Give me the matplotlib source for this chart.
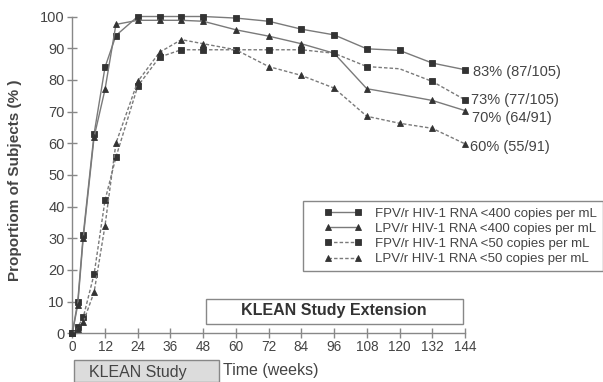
import matplotlib
matplotlib.use("Agg")
import matplotlib.pyplot as plt
from matplotlib.patches import Rectangle

plt.rcParams['font.family'] = ['Liberation Sans', 'DejaVu Sans']

# weeks
weeks = [0, 2, 4, 8, 12, 16, 24, 32, 40, 48, 60, 72, 84, 96, 108, 120, 132, 144]

# % of subjects
fpv_400 = [0, 10, 31, 63, 84, 94, 100, 100, 100, 100, 99.5, 98.5, 96, 94.2, 89.8, 89.3, 85.3, 83.2]
lpv_400 = [0, 9, 30, 62, 77, 97.5, 98.8, 98.8, 98.8, 98.5, 95.8, 93.8, 91.4, 88.4, 77.2, 75.4, 73.5, 70.3]
fpv_50 = [0, 2, 5, 18.7, 42, 55.6, 78, 87.2, 89.5, 89.5, 89.5, 89.5, 89.5, 88.4, 84.2, 83.5, 79.5, 73.7]
lpv_50 = [0, 1.5, 3.5, 13, 34, 60, 79.5, 88.7, 92.7, 91.4, 89.5, 84.2, 81.4, 77.4, 68.5, 66.3, 64.7, 59.8]

end_labels = ["83% (87/105)", "70% (64/91)", "73% (77/105)", "60% (55/91)"]
series_names = ["FPV/r HIV-1 RNA <400 copies per mL",
                "LPV/r HIV-1 RNA <400 copies per mL",
                "FPV/r HIV-1 RNA <50 copies per mL",
                "LPV/r HIV-1 RNA <50 copies per mL"]
xticks = list(range(0, 145, 12))
yticks = list(range(0, 101, 10))

W, H = 603, 382
fig = plt.figure(figsize=(W / 100, H / 100), dpi=100)
ax = fig.add_axes([72.3 / W, 1 - 333.3 / H, 392.7 / W, 316.8 / H])

line_col = '#7a7a7a'
mark_col = '#333333'
dash = (0, (2.5, 1.5))
styles = [
    (fpv_400, 's', '-', 4.8),
    (lpv_400, '^', '-', 4.3),
    (fpv_50, 's', dash, 4.8),
    (lpv_50, '^', dash, 4.3),
]
# markers missing at week 120 for the LPV/r <400 and FPV/r <50 curves
skip120 = [i for i in range(len(weeks)) if weeks[i] != 120]
handles = []
for k, (vals, mk, ls, ms) in enumerate(styles):
    me = skip120 if k in (1, 2) else None
    h, = ax.plot(weeks, vals, color=line_col, lw=1.0, ls=ls, marker=mk, ms=ms,
                 mfc=mark_col, mec=mark_col, mew=0.6, markevery=me, clip_on=False,
                 label=series_names[k], zorder=3)
    handles.append(h)

# end-of-line labels, offsets in pixels (dx, dy)
lab_y = [fpv_400[-1], lpv_400[-1], fpv_50[-1], lpv_50[-1]]
lab_off = [(8, -2), (7, -7), (6, 0), (5, -3)]
for txt, yv, off in zip(end_labels, lab_y, lab_off):
    ax.annotate(txt, (144, yv), xytext=(off[0] * 0.72, off[1] * 0.72),
                textcoords='offset points', fontsize=10.5, color='#444444',
                va='center', ha='left', annotation_clip=False)

ax.set_xlim(0, 144)
ax.set_ylim(0, 100)
ax.set_xticks(xticks)
ax.set_yticks(yticks)
for s in ['top', 'right']:
    ax.spines[s].set_visible(False)
for s in ['left', 'bottom']:
    ax.spines[s].set_color('#888888')
    ax.spines[s].set_linewidth(1.0)
ax.tick_params(axis='both', direction='inout', length=7, width=1.0,
               color='#888888', labelcolor='#444444')
ax.tick_params(axis='y', labelsize=10.5, pad=2)
ax.tick_params(axis='x', labelsize=9.8, pad=1)

fig.text(15 / W, 1 - 180 / H, "Proportiom of Subjects (% )", rotation=90,
         fontsize=11, fontweight='bold', color='#444444', ha='center', va='center')

# legend: frame drawn separately so the inner padding matches
fig.patches.append(Rectangle((302.7 / W, 1 - 270.7 / H), 300 / W, 70 / H,
                             transform=fig.transFigure, facecolor='white',
                             edgecolor='#888888', lw=1.0, zorder=1))
leg = fig.legend(handles=handles, loc='upper left', bbox_to_anchor=(324 / W, 1 - 207.5 / H),
                 numpoints=2, handlelength=2.9, fontsize=9.5, frameon=False,
                 borderpad=0, labelspacing=0.22, handletextpad=0.95, borderaxespad=0,
                 markerscale=0.85)
leg.set_zorder(2)
for t in leg.get_texts():
    t.set_color('#444444')

# study period boxes
fig.patches.append(Rectangle((205.5 / W, 1 - 323.5 / H), 257 / W, 25 / H,
                             transform=fig.transFigure, facecolor='white',
                             edgecolor='#888888', lw=1.0))
fig.text(334 / W, 1 - 311 / H, "KLEAN Study Extension", fontsize=11.5,
         fontweight='bold', color='#333333', ha='center', va='center')
fig.patches.append(Rectangle((73.5 / W, 0), 145.5 / W, 22 / H,
                             transform=fig.transFigure, facecolor='#dcdcdc',
                             edgecolor='#888888', lw=1.0))
fig.text(138 / W, 1 - 372 / H, "KLEAN Study", fontsize=11.5,
         color='#444444', ha='center', va='center')
fig.text(223 / W, 1 - 370 / H, "Time (weeks)", fontsize=11.5,
         color='#444444', ha='left', va='center')

fig.savefig("out.png", dpi=100)
